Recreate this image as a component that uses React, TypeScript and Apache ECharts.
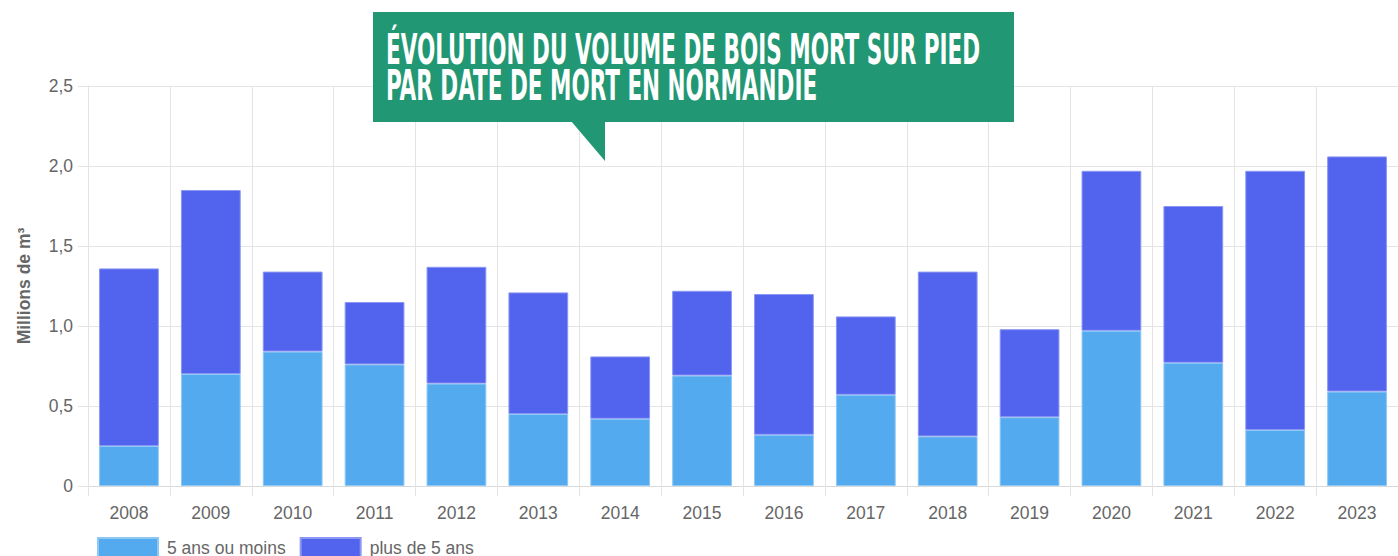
import React, { useEffect, useRef } from "react";
import * as echarts from "echarts";

const categories = ["2008","2009","2010","2011","2012","2013","2014","2015","2016","2017","2018","2019","2020","2021","2022","2023"];
const totals = [1.36,1.85,1.34,1.15,1.37,1.21,0.81,1.22,1.20,1.06,1.34,0.98,1.97,1.75,1.97,2.06];
const recent = [0.25,0.70,0.84,0.76,0.64,0.45,0.42,0.69,0.32,0.57,0.31,0.43,0.97,0.77,0.35,0.59];
const older = totals.map((t, i) => Math.round((t - recent[i]) * 100) / 100);
const seriesNames = ["5 ans ou moins", "plus de 5 ans"];
const titleLines = ["ÉVOLUTION DU VOLUME DE BOIS MORT SUR PIED", "PAR DATE DE MORT EN NORMANDIE"];
const yAxisName = "Millions de m³";

const TITLE_FONT = "bold 42px 'Liberation Sans Narrow', 'DejaVu Sans Condensed', sans-serif";
const FONT = "'Liberation Sans', Arial, sans-serif";

function measure(text: string): number {
  const c = document.createElement("canvas");
  const ctx = c.getContext("2d");
  if (!ctx) return 900;
  ctx.font = TITLE_FONT;
  return ctx.measureText(text).width;
}

export default function App() {
  const ref = useRef<HTMLDivElement>(null);
  useEffect(() => {
    document.body.style.margin = "0";
    if (!ref.current) return;
    const chart = echarts.init(ref.current, undefined, { renderer: "svg" });
    const w1 = measure(titleLines[0]);
    const sx = 594 / w1;
    const gridColor = "#e4e4e4";
    chart.setOption({
      animation: false,
      grid: { left: 88, right: -6, top: 86, bottom: 70, containLabel: false },
      legend: {
        left: 97,
        top: 537,
        padding: 0,
        itemWidth: 60,
        itemHeight: 19,
        itemGap: 14,
        icon: "rect",
        textStyle: { color: "#666", fontSize: 17.5, fontFamily: FONT, padding: [0, 0, 0, 4] },
        data: seriesNames,
      },
      xAxis: {
        type: "category",
        data: categories,
        axisLine: { show: true, lineStyle: { color: "#d9d9d9" } },
        axisTick: { show: true, length: 10, lineStyle: { color: gridColor } },
        splitLine: { show: true, lineStyle: { color: gridColor } },
        axisLabel: { color: "#666", fontSize: 17.5, margin: 18, fontFamily: FONT },
      },
      yAxis: {
        type: "value",
        min: 0,
        max: 2.5,
        interval: 0.5,
        name: yAxisName,
        nameLocation: "middle",
        nameGap: 55,
        nameTextStyle: { color: "#666", fontSize: 17.5, fontWeight: "bold", fontFamily: FONT },
        axisLine: { show: true, lineStyle: { color: gridColor } },
        axisTick: { show: true, length: 10, lineStyle: { color: gridColor } },
        splitLine: { show: true, lineStyle: { color: gridColor } },
        axisLabel: {
          color: "#666",
          fontSize: 17.5,
          margin: 15,
          fontFamily: FONT,
          formatter: (v: number) => (v === 0 ? "0" : v.toFixed(1).replace(".", ",")),
        },
      },
      series: [
        {
          name: seriesNames[0],
          type: "bar",
          stack: "total",
          data: recent,
          barCategoryGap: "27%",
          itemStyle: { color: "#54aaee", borderColor: "#8ec8f4", borderWidth: 1 },
        },
        {
          name: seriesNames[1],
          type: "bar",
          stack: "total",
          data: older,
          barCategoryGap: "27%",
          itemStyle: { color: "#5263ee", borderColor: "#8b97f2", borderWidth: 1 },
        },
      ],
      graphic: [
        { type: "rect", z: 100, shape: { x: 373, y: 12, width: 641, height: 110 }, style: { fill: "#229773" } },
        { type: "polygon", z: 100, shape: { points: [[571, 121], [605, 121], [605, 161]] }, style: { fill: "#229773" } },
        {
          type: "text",
          z: 101,
          x: 386,
          y: 49,
          scaleX: sx,
          style: { text: titleLines[0], fill: "#fff", font: TITLE_FONT, align: "left", verticalAlign: "middle" },
        },
        {
          type: "text",
          z: 101,
          x: 386,
          y: 85,
          scaleX: sx,
          style: { text: titleLines[1], fill: "#fff", font: TITLE_FONT, align: "left", verticalAlign: "middle" },
        },
      ],
    });
    return () => chart.dispose();
  }, []);
  return <div ref={ref} style={{ width: 1398, height: 556 }} />;
}
